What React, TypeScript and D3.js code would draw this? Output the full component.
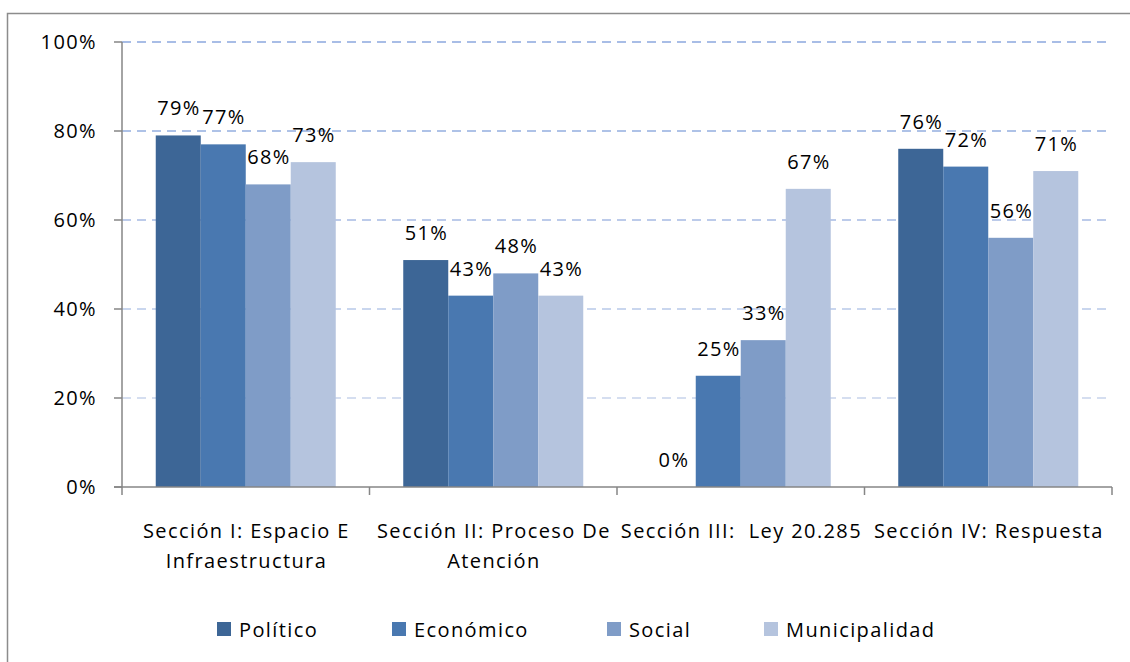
import React, { useRef, useEffect } from "react";
import * as d3 from "d3";

const categories = [
  ["Sección I: Espacio E", "Infraestructura"],
  ["Sección II: Proceso De", "Atención"],
  ["Sección III:  Ley 20.285"],
  ["Sección IV: Respuesta"],
];
const seriesNames = ["Político", "Económico", "Social", "Municipalidad"];
const politico = [0.79, 0.51, 0, 0.76];
const economico = [0.77, 0.43, 0.25, 0.72];
const social = [0.68, 0.48, 0.33, 0.56];
const municipalidad = [0.73, 0.43, 0.67, 0.71];
const yTicks = [0, 0.2, 0.4, 0.6, 0.8, 1];

const colors = ["#3d6696", "#4978b0", "#7f9cc7", "#b5c4de"];
const gridColors = ["#e1e7f3", "#d5def0", "#c9d6ee", "#bccbea", "#aec2e7", "#a8bde6"];

const FONT = "'Open Sans', 'Noto Sans', sans-serif";
const FS = "20px";
const LS = "1.4px";

const BarChart = ({ width, height }: { width: number; height: number }) => {
  const ref = useRef(null);

  useEffect(() => {
    const svg = d3.select(ref.current);
    svg.selectAll("*").remove();
    svg.attr("width", width).attr("height", height);

    const values = [politico, economico, social, municipalidad];
    const catKeys = categories.map((c) => c.join(" "));

    const left = 122;
    const right = 1112;
    const top = 42;
    const bottom = 487;

    // outer frame (cut off on right/bottom like the original)
    svg
      .append("rect")
      .attr("x", 7.5)
      .attr("y", 13.5)
      .attr("width", width + 20)
      .attr("height", height + 20)
      .attr("fill", "white")
      .attr("stroke", "#8c8c8c")
      .attr("stroke-width", 1.5);

    const x0 = d3.scaleBand().domain(catKeys).range([left, right]).padding(0);
    const x1 = d3
      .scaleBand()
      .domain(seriesNames)
      .range([0, x0.bandwidth()])
      .paddingInner(0)
      .paddingOuter(0.75);
    const y = d3.scaleLinear().domain([0, 1]).range([bottom, top]);

    // gridlines
    svg
      .append("g")
      .selectAll("line")
      .data(yTicks.filter((t) => t > 0))
      .enter()
      .append("line")
      .attr("x1", left)
      .attr("x2", right)
      .attr("y1", (d) => y(d))
      .attr("y2", (d) => y(d))
      .attr("stroke", (d) => gridColors[Math.round(d * 5)])
      .attr("stroke-width", 2)
      .attr("stroke-dasharray", "9,6");

    // bars
    seriesNames.forEach((s, si) => {
      svg
        .append("g")
        .selectAll("rect")
        .data(values[si])
        .enter()
        .append("rect")
        .attr("x", (d, i) => (x0(catKeys[i]) as number) + (x1(s) as number))
        .attr("y", (d) => y(d))
        .attr("width", x1.bandwidth())
        .attr("height", (d) => bottom - y(d))
        .attr("fill", colors[si]);
    });

    // data labels
    seriesNames.forEach((s, si) => {
      svg
        .append("g")
        .selectAll("text")
        .data(values[si])
        .enter()
        .append("text")
        .attr("x", (d, i) => (x0(catKeys[i]) as number) + (x1(s) as number) + x1.bandwidth() / 2 + 0.7)
        .attr("y", (d) => y(d) - 20)
        .attr("text-anchor", "middle")
        .style("font-family", FONT)
        .style("font-size", FS)
        .style("letter-spacing", LS)
        .attr("fill", "#000")
        .text((d) => `${Math.round(d * 100)}%`);
    });

    // y axis
    const yAxis = svg.append("g");
    yAxis
      .append("line")
      .attr("x1", left)
      .attr("x2", left)
      .attr("y1", top)
      .attr("y2", bottom)
      .attr("stroke", "#868686")
      .attr("stroke-width", 1.5);
    yTicks.forEach((t) => {
      yAxis
        .append("line")
        .attr("x1", left - 8)
        .attr("x2", left)
        .attr("y1", y(t))
        .attr("y2", y(t))
        .attr("stroke", "#868686")
        .attr("stroke-width", 1.5);
      yAxis
        .append("text")
        .attr("x", 97)
        .attr("y", y(t) + 7)
        .attr("text-anchor", "end")
        .style("font-family", FONT)
        .style("font-size", FS)
        .style("letter-spacing", LS)
        .text(`${Math.round(t * 100)}%`);
    });

    // x axis
    const xAxis = svg.append("g");
    xAxis
      .append("line")
      .attr("x1", left - 8)
      .attr("x2", right)
      .attr("y1", bottom)
      .attr("y2", bottom)
      .attr("stroke", "#868686")
      .attr("stroke-width", 1.5);
    const tickXs = catKeys.map((k) => x0(k) as number).concat([right]);
    tickXs.forEach((tx) => {
      xAxis
        .append("line")
        .attr("x1", tx)
        .attr("x2", tx)
        .attr("y1", bottom)
        .attr("y2", bottom + 8)
        .attr("stroke", "#868686")
        .attr("stroke-width", 1.5);
    });
    categories.forEach((lines, i) => {
      const cx = (x0(catKeys[i]) as number) + x0.bandwidth() / 2 + 0.7;
      lines.forEach((ln, li) => {
        xAxis
          .append("text")
          .attr("x", cx)
          .attr("y", 538 + li * 30)
          .attr("text-anchor", "middle")
          .style("white-space", "pre")
          .style("font-family", FONT)
          .style("font-size", FS)
          .style("letter-spacing", LS)
          .text(ln);
      });
    });

    // legend
    const legendX = [217, 392, 607, 764];
    const legend = svg.append("g");
    seriesNames.forEach((s, si) => {
      legend
        .append("rect")
        .attr("x", legendX[si])
        .attr("y", 622)
        .attr("width", 14)
        .attr("height", 14)
        .attr("fill", colors[si]);
      legend
        .append("text")
        .attr("x", legendX[si] + 22)
        .attr("y", 637)
        .style("font-family", FONT)
        .style("font-size", FS)
        .style("letter-spacing", LS)
        .text(s);
    });
  }, [width, height]);

  return <svg ref={ref} style={{ position: "absolute", left: 0, top: 0 }}></svg>;
};

export default function App() {
  return <BarChart width={1130} height={662} />;
}
